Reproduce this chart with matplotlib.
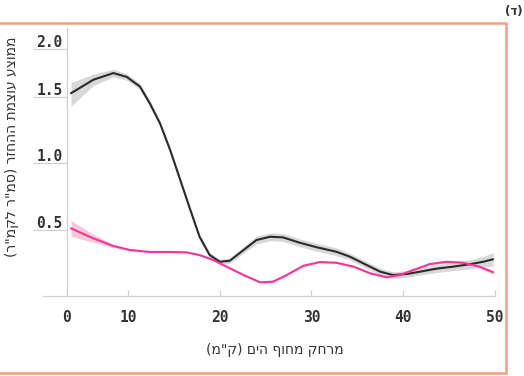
import numpy as np
import matplotlib
matplotlib.use("Agg")
import matplotlib.pyplot as plt
from matplotlib.patches import Rectangle
from matplotlib.transforms import ScaledTranslation

# ---------------- data ----------------
black_x = [0.66, 4.3, 7.6, 9.8, 11.3, 12.4, 13.5, 14.6, 15.7, 16.8, 17.8, 18.9,
           20.0, 21.1, 22.6, 24.0, 25.5, 26.9, 28.7, 30.6, 32.7, 34.2, 36.0,
           37.5, 38.9, 40.4, 41.8, 43.6, 45.4, 47.2, 48.7, 49.8]
black_y = [1.54, 1.68, 1.75, 1.71, 1.61, 1.45, 1.30, 1.10, 0.874, 0.648, 0.447,
           0.309, 0.258, 0.266, 0.347, 0.422, 0.447, 0.442, 0.402, 0.367, 0.334,
           0.296, 0.234, 0.183, 0.158, 0.166, 0.183, 0.206, 0.221, 0.239, 0.258,
           0.277]
black_ci = [0.11, 0.06, 0.04, 0.035, 0.03, 0.025, 0.02, 0.02, 0.02, 0.02, 0.02,
            0.02, 0.02, 0.02, 0.025, 0.03, 0.03, 0.03, 0.03, 0.03, 0.03, 0.025,
            0.025, 0.025, 0.025, 0.025, 0.025, 0.03, 0.03, 0.035, 0.04, 0.05]

pink_x = [0.66, 4.3, 7.6, 10.2, 12.4, 14.6, 16.4, 17.8, 19.3, 20.75, 22.6, 24.4,
          25.8, 27.3, 29.1, 30.9, 32.7, 34.6, 36.4, 38.2, 39.6, 41.1, 42.9,
          44.7, 46.5, 48.3, 49.8]
pink_y = [0.51, 0.435, 0.377, 0.347, 0.332, 0.332, 0.329, 0.309, 0.271, 0.221,
          0.158, 0.103, 0.108, 0.158, 0.228, 0.256, 0.251, 0.221, 0.171, 0.141,
          0.158, 0.196, 0.241, 0.258, 0.251, 0.221, 0.179]
pink_ci = [0.06, 0.03, 0.012, 0.008, 0.006, 0.006, 0.006, 0.006, 0.006, 0.006,
           0.006, 0.006, 0.006, 0.006, 0.006, 0.006, 0.006, 0.006, 0.006, 0.006,
           0.006, 0.006, 0.006, 0.008, 0.01, 0.012, 0.015]

x_ticks = [0, 10, 20, 30, 40, 50]
y_ticks = [0.5, 1.0, 1.5, 2.0]
y_tick_labels = ["0.5", "1.0", "1.5", "2.0"]

# labels (Hebrew, stored in visual order since matplotlib has no bidi support)
x_label = '(מ"ק) םיה ףוחמ קחרמ'
y_label = '(ר"מקל ר"מס) רזחהה תמצוע עצוממ'
panel_label = "(ד)"

# ---------------- scales matching the reference axes ----------------
XR = 6.1 / 9.175
def fx(x):
    x = np.asarray(x, dtype=float)
    return np.where(x < 10, x * XR, 10 * XR + (x - 10))
def fx_inv(u):
    u = np.asarray(u, dtype=float)
    return np.where(u < 10 * XR, u / XR, (u - 10 * XR) + 10)

YR = 96 / 132.7
def fy(y):
    y = np.asarray(y, dtype=float)
    return np.where(y < 1.5, y, 1.5 + (y - 1.5) * YR)
def fy_inv(v):
    v = np.asarray(v, dtype=float)
    return np.where(v < 1.5, v, 1.5 + (v - 1.5) / YR)

W, H = 524, 376
fig = plt.figure(figsize=(W / 100, H / 100), dpi=100)
ax = fig.add_axes([43 / W, (H - 296) / H, (495 - 43) / W, (296 - 28) / H])
ax.set_xscale("function", functions=(fx, fx_inv))
ax.set_yscale("function", functions=(fy, fy_inv))

bx = np.array(black_x); by = np.array(black_y); bc = np.array(black_ci)
px = np.array(pink_x); py = np.array(pink_y); pc = np.array(pink_ci)

ax.fill_between(bx, by - bc, by + bc, color="#cfcfcf", alpha=0.8, lw=0, zorder=2)
ax.fill_between(px, py - pc, py + pc, color="#f7c3d3", alpha=0.9, lw=0, zorder=2)
ax.plot(bx, by, color="#2b2b2b", lw=1.5, zorder=3, solid_capstyle="round",
        solid_joinstyle="round")
ax.plot(px, py, color="#f5359a", lw=1.5, zorder=4, solid_capstyle="round",
        solid_joinstyle="round")

ax.set_xlim(-3.93, 50)
ax.set_ylim(0, 2.22)

for s in ["top", "right"]:
    ax.spines[s].set_visible(False)
ax.spines["left"].set_position(("data", 0))
for s in ["left", "bottom"]:
    ax.spines[s].set_color("#d0d0d0")
    ax.spines[s].set_linewidth(0.9)

tick_font = dict(family="DejaVu Sans Mono", size=10.5, weight="semibold")
ax.set_xticks(x_ticks)
ax.set_xticklabels([str(t) for t in x_ticks], color="#333333", **tick_font)
ax.tick_params(axis="x", direction="in", length=4, width=0.9, color="#d0d0d0", pad=10)

ax.set_yticks(y_ticks)
ax.set_yticklabels(y_tick_labels, color="#333333", **tick_font)
ax.tick_params(axis="y", direction="out", length=24.5, width=0.9, color="#d0d0d0", pad=-21.5)
off = ScaledTranslation(0, 8 / 100, fig.dpi_scale_trans)
for lab in ax.get_yticklabels():
    lab.set_transform(lab.get_transform() + off)

ax.set_xlabel(x_label, family="DejaVu Sans", size=10, color="#333333")
ax.xaxis.set_label_coords((275 - 43) / (495 - 43), (296 - 350) / (296 - 28))
ax.set_ylabel(y_label, family="DejaVu Sans", size=10, color="#333333")
ax.yaxis.set_label_coords((12 - 43) / (495 - 43), (296 - 147) / (296 - 28))
ax.xaxis.label.set_va("center")
ax.yaxis.label.set_va("center")

# orange frame
fig.patches.append(Rectangle((-5 / W, (H - 373) / H), (506 + 5) / W, (373 - 23) / H,
                             transform=fig.transFigure, fill=False,
                             edgecolor="#f4a07f", lw=1.8, zorder=0))
fig.text(505 / W, (H - 11) / H, panel_label, ha="left", va="center",
         fontsize=8.5, weight="bold", color="#333333", family="DejaVu Sans")

fig.savefig("out.png", dpi=100)
